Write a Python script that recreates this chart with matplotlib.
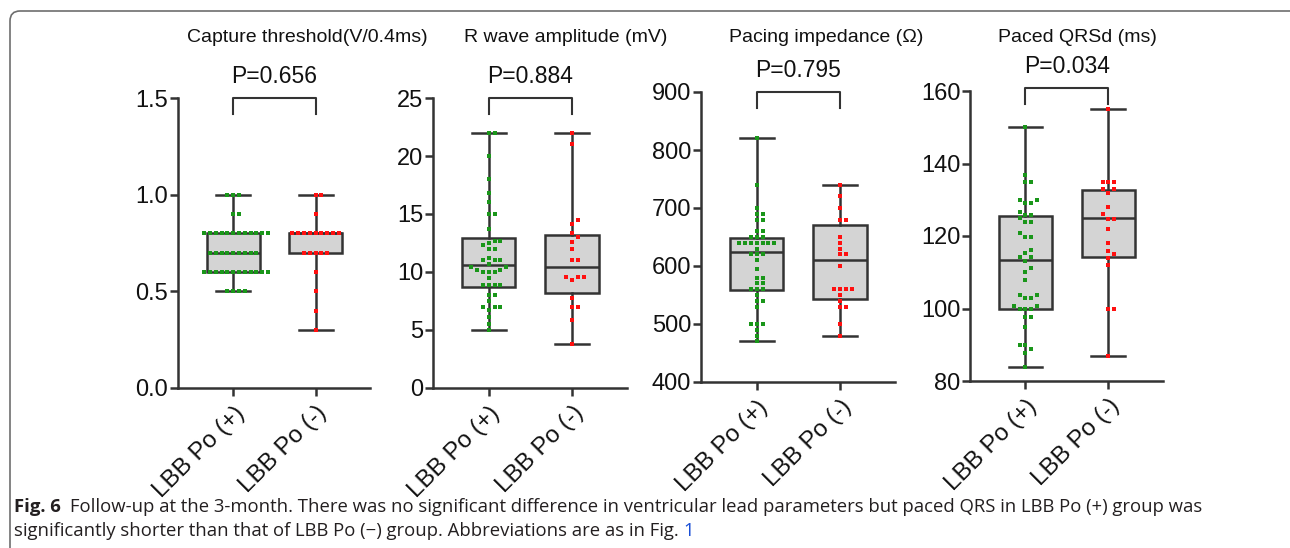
import numpy as np
import matplotlib
matplotlib.use("Agg")
import matplotlib.pyplot as plt
from matplotlib.patches import FancyBboxPatch
import matplotlib.transforms as mtransforms

plt.rcParams['font.family'] = ['Liberation Sans', 'DejaVu Sans']

# ---- data ----
groups = ['LBB Po (+)', 'LBB Po (-)']
titles = ['Capture threshold(V/0.4ms)', 'R wave amplitude (mV)',
          'Pacing impedance (\u03a9)', 'Paced QRSd (ms)']
pvals = ['P=0.656', 'P=0.884', 'P=0.795', 'P=0.034']

thr_pos = [0.5, 0.5, 0.5, 0.5,
           0.6, 0.6, 0.6, 0.6, 0.6, 0.6, 0.6, 0.6, 0.6, 0.6, 0.6, 0.6,
           0.7, 0.7, 0.7, 0.7, 0.7, 0.7, 0.7, 0.7, 0.7,
           0.8, 0.8, 0.8, 0.8, 0.8, 0.8, 0.8, 0.8, 0.8, 0.8, 0.8, 0.8,
           0.9, 0.9, 1.0, 1.0, 1.0]
thr_neg = [0.3, 0.4, 0.5, 0.6, 0.7, 0.7, 0.7, 0.7, 0.7,
           0.8, 0.8, 0.8, 0.8, 0.8, 0.8, 0.8, 0.8, 0.8, 0.9, 1.0, 1.0]

rwave_pos = [5.0, 5.5, 6.1, 6.7, 7.0, 7.0, 7.0, 7.5, 8.0, 8.0,
             8.9, 8.9, 8.9, 8.9, 9.5, 10.0, 10.0, 10.0, 10.2, 10.2,
             10.4, 10.4, 10.7, 11.0, 11.0, 11.0, 11.2, 12.0, 12.0, 12.3,
             12.5, 12.7, 12.7, 13.7, 15.0, 15.0, 16.0, 16.8, 18.0, 20.0,
             22.0, 22.0]
rwave_neg = [3.8, 5.9, 7.0, 7.0, 7.8, 9.3, 9.6, 9.6, 9.6, 11.0, 11.0,
             12.0, 12.6, 13.0, 13.4, 14.1, 14.5, 21.0, 22.0]

imp_pos = [470, 480, 490, 500, 500, 500, 530, 540, 540, 550,
           560, 560, 560, 570, 570, 580, 580, 595, 610, 620, 620, 620,
           630, 640, 640, 640, 640, 640, 640, 640, 650, 650, 650,
           660, 660, 680, 680, 690, 690, 700, 740, 820]
imp_neg = [480, 500, 530, 530, 540, 550, 560, 560, 560, 560, 600,
           620, 620, 630, 640, 650, 680, 680, 700, 720, 740]

qrs_pos = [84, 87.8, 88.8, 89.9, 89.9, 95, 97.7, 97.7, 99.9, 99.9, 99.9,
           100.8, 100.8, 103, 103, 103.7, 103.7, 107.9, 110.2, 111.1,
           113.2, 114.1, 114.1, 115.2, 116.1, 119.8, 119.8, 120.9,
           124, 124, 124.9, 125.8, 125.8, 126.7, 129, 129, 129.9, 129.9,
           134.8, 134.8, 136.8, 150]
qrs_neg = [87, 100, 100, 112, 114, 115, 116, 118, 122, 124.7, 124.7,
           126, 128, 132, 133, 133, 135, 135, 135, 155]

# box stats as drawn (whislo, q1, med, q3, whishi)
box_thr = [(0.5, 0.6, 0.7, 0.8, 1.0), (0.3, 0.7, 0.8, 0.8, 1.0)]
box_rwave = [(5.0, 8.7, 10.6, 12.9, 22.0), (3.8, 8.2, 10.4, 13.2, 22.0)]
box_imp = [(470, 558, 625, 649, 820), (480, 543, 610, 671, 740)]
box_qrs = [(84, 100, 113.4, 125.6, 150), (87, 114.3, 124.9, 132.7, 155)]

ylims = [(0, 1.5), (0, 25), (400, 900), (80, 160)]
yticks = [[0.0, 0.5, 1.0, 1.5], [0, 5, 10, 15, 20, 25],
          [400, 500, 600, 700, 800, 900], [80, 100, 120, 140, 160]]
ytick_fmt = ['{:.1f}', '{:.0f}', '{:.0f}', '{:.0f}']

points = [(thr_pos, thr_neg), (rwave_pos, rwave_neg),
          (imp_pos, imp_neg), (qrs_pos, qrs_neg)]
boxes = [box_thr, box_rwave, box_imp, box_qrs]

# ---- layout (pixels) ----
W, H = 1290, 548
axes_px = [(178, 370, 98, 388), (433, 627, 98, 388),
           (701, 895, 92, 382), (970, 1163, 91, 381)]
title_x = [307, 566, 826, 1077]
title_y = 37

dark = '#333333'
txt = '#111111'
dot_colors = ['#1a961a', '#ff1010']

fig = plt.figure(figsize=(W / 100, H / 100), dpi=100)


def swarm(ax, xc, vals, step):
    vals = np.asarray(vals, float)
    disp = ax.transData.transform(np.column_stack([np.full(len(vals), xc), vals]))
    x0 = disp[0, 0]
    cands = [0.0]
    for k in range(1, 40):
        cands += [k * step / 2, -k * step / 2]
    placed = []
    off = np.zeros(len(vals))
    for i in np.argsort(vals, kind='stable'):
        y = disp[i, 1]
        for c in cands:
            if all((c - px) ** 2 + (y - py) ** 2 >= step ** 2 - 1e-6 for px, py in placed):
                break
        placed.append((c, y))
        off[i] = c
    back = ax.transData.inverted().transform(np.column_stack([x0 + off, disp[:, 1]]))
    return back[:, 0]


for i in range(4):
    l, r, t, b = axes_px[i]
    ax = fig.add_axes([l / W, 1 - b / H, (r - l) / W, (b - t) / H])
    ax.set_xlim(0.33, 2.66)
    ax.set_ylim(*ylims[i])

    stats = []
    for lo, q1, med, q3, hi in boxes[i]:
        stats.append(dict(whislo=lo, q1=q1, med=med, q3=q3, whishi=hi, fliers=[]))
    ax.bxp(stats, positions=[1, 2], widths=0.64, capwidths=0.41,
           showfliers=False, patch_artist=True,
           boxprops=dict(facecolor='#d4d4d4', edgecolor=dark, linewidth=1.8),
           medianprops=dict(color=dark, linewidth=1.8),
           whiskerprops=dict(color=dark, linewidth=1.8),
           capprops=dict(color=dark, linewidth=1.8), zorder=2)

    for j in range(2):
        vals = points[i][j]
        xs = swarm(ax, j + 1, vals, 5.8)
        ax.plot(xs, vals, 's', ms=3.0, color=dot_colors[j], mew=0,
                zorder=3, clip_on=False)

    ax.set_yticks(yticks[i])
    ax.set_yticklabels([ytick_fmt[i].format(v) for v in yticks[i]])
    ax.set_xticks([1, 2])
    ax.set_xticklabels(groups, rotation=45, ha='right', va='top',
                       rotation_mode='anchor')
    ax.tick_params(axis='both', length=6, width=1.8, color=dark,
                   labelsize=17, labelcolor=txt, pad=1)
    ax.tick_params(axis='x', pad=4, labelsize=17.5)
    for s in ['top', 'right']:
        ax.spines[s].set_visible(False)
    for s in ['left', 'bottom']:
        ax.spines[s].set_linewidth(1.8)
        ax.spines[s].set_color(dark)
    ax.set_facecolor('none')

    # significance bracket
    tr = mtransforms.blended_transform_factory(ax.transData, ax.transAxes)
    top = 1.0 if i != 3 else 1.01
    leg = 16 / (b - t)
    ax.plot([1, 1, 2, 2], [top - leg, top, top, top - leg], color=dark,
            lw=1.5, transform=tr, clip_on=False)
    ax.annotate(pvals[i], xy=(1.5, top), xycoords=tr, xytext=(0, 7),
                textcoords='offset points', ha='center', va='bottom',
                fontsize=16.5, color=txt)

    fig.text(title_x[i] / W, 1 - title_y / H, titles[i], ha='center',
             va='center', fontsize=14, color=txt)

# ---- caption ----
cap_font = ['Open Sans', 'DejaVu Sans']
cap_color = '#231f20'
cap_size = 13.3
f6 = fig.text(14 / W, 1 - 507 / H, 'Fig. 6', fontsize=cap_size,
              fontweight='bold', family=cap_font, color=cap_color, va='center')
fig.canvas.draw()
x_after = f6.get_window_extent().x1 + 9
fig.text(x_after / W, 1 - 507 / H,
         'Follow-up at the 3-month. There was no significant difference in '
         'ventricular lead parameters but paced QRS in LBB Po (+) group was',
         fontsize=cap_size, family=cap_font, color=cap_color, va='center')
t2 = fig.text(14 / W, 1 - 531 / H,
              'significantly shorter than that of LBB Po (\u2212) group. '
              'Abbreviations are as in Fig.\u00a0',
              fontsize=cap_size, family=cap_font, color=cap_color, va='center')
fig.canvas.draw()
bb = t2.get_window_extent()
fig.text(bb.x1 / W, 1 - 531 / H, '1', fontsize=cap_size, family=cap_font,
         color='#1a4fd6', va='center')

# rounded frame around the figure
frame = FancyBboxPatch((10, -20), 1300, H - 11 + 20,
                       boxstyle='round,pad=0,rounding_size=10',
                       transform=mtransforms.IdentityTransform(),
                       facecolor='none', edgecolor='#6e6e6e', lw=1.2)
fig.add_artist(frame)

fig.savefig('out.png', dpi=100)
